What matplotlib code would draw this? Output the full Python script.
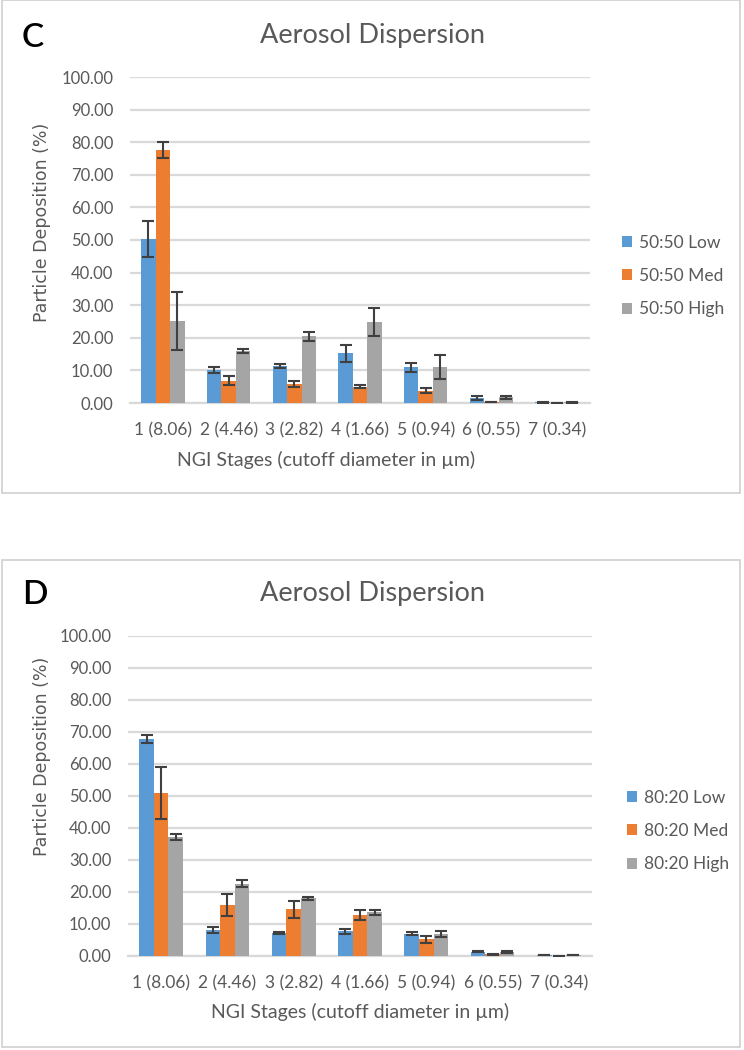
import matplotlib.pyplot as plt
import matplotlib.patches as mpatches
import numpy as np

plt.rcParams['font.family'] = ['Lato', 'DejaVu Sans']

stages = ['1 (8.06)', '2 (4.46)', '3 (2.82)', '4 (1.66)', '5 (0.94)', '6 (0.55)', '7 (0.34)']

# panel C: 50:50
c_labels = ['50:50 Low', '50:50 Med', '50:50 High']
c_low = [50.3, 10.1, 11.3, 15.2, 10.9, 1.5, 0.2]
c_low_err = [5.5, 1.0, 0.6, 2.5, 1.3, 0.6, 0.05]
c_med = [77.6, 6.9, 5.9, 5.0, 3.8, 0.3, 0.1]
c_med_err = [2.5, 1.5, 1.0, 0.4, 0.8, 0.05, 0.05]
c_high = [25.2, 16.0, 20.5, 24.9, 11.1, 1.7, 0.2]
c_high_err = [9.0, 0.6, 1.4, 4.3, 3.6, 0.4, 0.05]

# panel D: 80:20
d_labels = ['80:20 Low', '80:20 Med', '80:20 High']
d_low = [67.9, 8.1, 7.2, 7.7, 7.0, 1.4, 0.3]
d_low_err = [1.2, 0.9, 0.3, 0.8, 0.4, 0.2, 0.05]
d_med = [51.0, 15.9, 14.6, 12.8, 5.2, 0.5, 0.1]
d_med_err = [8.1, 3.4, 2.6, 1.5, 1.0, 0.1, 0.05]
d_high = [37.3, 22.6, 18.0, 13.6, 6.8, 1.3, 0.3]
d_high_err = [0.9, 1.0, 0.4, 0.9, 0.9, 0.3, 0.05]

colors = ['#5B9BD5', '#ED7D31', '#A5A5A5']
txt = '#595959'
grid = '#D9D9D9'

fig = plt.figure(figsize=(7.44, 10.5), dpi=100)

# panel frames
for y0, y1 in [(0, 493), (560, 1047)]:
    fig.patches.append(mpatches.Rectangle((2 / 744, 1 - y1 / 1050), 738 / 744, (y1 - y0) / 1050,
                                          transform=fig.transFigure, fill=False,
                                          edgecolor='#D0D0D0', lw=1.2))


def panel(rect, letter, series, errs, labels, title_y, letter_y, ylab_y, xlab_x, xlab_y, leg_xy):
    ax = fig.add_axes(rect)
    x = np.arange(len(stages))
    w = 0.22
    for i in range(3):
        ax.bar(x + (i - 1) * w, series[i], w, color=colors[i], label=labels[i], zorder=3,
               yerr=errs[i], error_kw=dict(ecolor='#404040', elinewidth=1.5, capsize=4,
                                          capthick=1.5, zorder=4))
    ax.set_ylim(0, 100)
    ax.set_xlim(-0.5, len(stages) - 0.5)
    ax.set_yticks(np.arange(0, 101, 10))
    ax.set_yticklabels(['%.2f' % v for v in np.arange(0, 101, 10)])
    ax.set_xticks(x)
    ax.set_xticklabels(stages)
    ax.tick_params(length=0, labelsize=12, colors=txt)
    ax.tick_params(axis='y', pad=12)
    ax.tick_params(axis='x', pad=14, labelsize=12.5)
    ax.yaxis.grid(True, color=grid, lw=1.6, zorder=0)
    ax.set_axisbelow(True)
    for s in ['top', 'right', 'left']:
        ax.spines[s].set_visible(False)
    ax.spines['bottom'].set_color(grid)
    ax.spines['bottom'].set_linewidth(1.6)
    fig.text(372 / 744, 1 - title_y / 1050, 'Aerosol Dispersion', ha='center', va='center',
             fontsize=19.5, color=txt)
    fig.text(22 / 744, 1 - letter_y / 1050, letter, ha='left', va='center',
             fontsize=24, color='black', fontweight='semibold')
    fig.text(42 / 744, 1 - ylab_y / 1050, 'Particle Deposition (%)', ha='center', va='center',
             rotation=90, fontsize=12.5, color=txt, family='DejaVu Sans')
    fig.text(xlab_x / 744, 1 - xlab_y / 1050, 'NGI Stages (cutoff diameter in µm)',
             ha='center', va='center', fontsize=14, color=txt)
    leg = ax.legend(loc='center left', bbox_to_anchor=leg_xy, bbox_transform=fig.transFigure,
                    frameon=False, fontsize=12.5, labelspacing=1.0, handlelength=0.6,
                    handleheight=0.6, handletextpad=0.4, borderpad=0, borderaxespad=0)
    for t in leg.get_texts():
        t.set_color(txt)
    return ax


panel([130 / 744, 1 - 403 / 1050, 460 / 744, 326 / 1050], 'C',
      [c_low, c_med, c_high], [c_low_err, c_med_err, c_high_err], c_labels,
      title_y=35, letter_y=38, ylab_y=222, xlab_x=326, xlab_y=460,
      leg_xy=(622 / 744, 1 - 276 / 1050))

panel([128 / 744, 1 - 956 / 1050, 464 / 744, 320 / 1050], 'D',
      [d_low, d_med, d_high], [d_low_err, d_med_err, d_high_err], d_labels,
      title_y=593, letter_y=595, ylab_y=756, xlab_x=360, xlab_y=1012,
      leg_xy=(627 / 744, 1 - 831 / 1050))

plt.savefig('out.png', dpi=100)
